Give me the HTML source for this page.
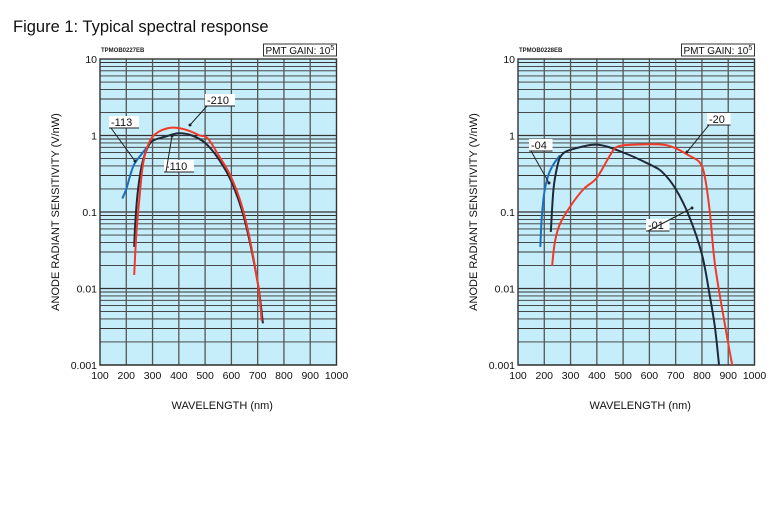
<!DOCTYPE html>
<html><head><meta charset="utf-8"><style>
body{margin:0;background:#fff;width:781px;height:505px;overflow:hidden}
svg{font-family:"Liberation Sans",sans-serif}
</style></head><body>
<svg id="s" width="781" height="505" xmlns="http://www.w3.org/2000/svg">
<text x="13" y="32" font-size="16.5" fill="#111">Figure 1: Typical spectral response</text>
</svg>
<script>
const S=document.getElementById('s');let h='';
function smooth(P){let d=`M${P[0][0].toFixed(1)},${P[0][1].toFixed(1)}`;
 for(let i=0;i<P.length-1;i++){const p0=P[i-1]||P[i],p1=P[i],p2=P[i+1],p3=P[i+2]||p2;
  const c1=[p1[0]+(p2[0]-p0[0])/6,p1[1]+(p2[1]-p0[1])/6],c2=[p2[0]-(p3[0]-p1[0])/6,p2[1]-(p3[1]-p1[1])/6];
  d+=` C${c1[0].toFixed(1)},${c1[1].toFixed(1)} ${c2[0].toFixed(1)},${c2[1].toFixed(1)} ${p2[0].toFixed(1)},${p2[1].toFixed(1)}`;}
 return d;}
function chart(x0,code,curves,labels){
 const w=236.5,y0=59,d=76.5;
 const X=l=>x0+(l-100)/900*w, Y=v=>y0+(1-Math.log10(v))*d;
 h+=`<rect x="${x0}" y="${y0}" width="${w}" height="${4*d}" fill="#c6eefa"/>`;
 for(let e=-3;e<1;e++)for(let m=1;m<10;m++){const y=Y(m*Math.pow(10,e));
  h+=`<line x1="${x0}" x2="${x0+w}" y1="${y}" y2="${y}" stroke="#333" stroke-width="${m==1?1.3:0.9}"/>`;}
 for(let l=200;l<1000;l+=100)h+=`<line x1="${X(l)}" x2="${X(l)}" y1="${y0}" y2="${y0+4*d}" stroke="#555" stroke-width="1.3"/>`;
 h+=`<rect x="${x0}" y="${y0}" width="${w}" height="${4*d}" fill="none" stroke="#333" stroke-width="1.4"/>`;
 ['10','1','0.1','0.01','0.001'].forEach((t,i)=>h+=`<text x="${x0-3}" y="${y0+i*d+4}" font-size="10.5" text-anchor="end" fill="#111">${t}</text>`);
 for(let l=100;l<=1000;l+=100)h+=`<text x="${X(l)}" y="${y0+4*d+14}" font-size="10.5" text-anchor="middle" fill="#111">${l}</text>`;
 h+=`<text x="${x0+w/2+4}" y="409" font-size="11" text-anchor="middle" fill="#111">WAVELENGTH (nm)</text>`;
 h+=`<text transform="translate(${x0-41},${y0+2*d}) rotate(-90)" font-size="11" text-anchor="middle" fill="#111">ANODE RADIANT SENSITIVITY (V/nW)</text>`;
 h+=`<text x="${x0+1}" y="${y0-7}" font-size="6" font-weight="bold" fill="#222">${code}</text>`;
 h+=`<rect x="${x0+w-73}" y="${y0-15}" width="73" height="12" fill="#fff" stroke="#333"/><text x="${x0+w-71}" y="${y0-5}" font-size="10" fill="#111">PMT GAIN: 10<tspan dy="-4" font-size="7">5</tspan></text>`;
 curves.forEach(c=>{h+=`<path fill="none" stroke="${c[0]}" stroke-width="2" stroke-linejoin="round" d="${smooth(c[1].map(p=>[X(p[0]),Y(p[1])]))}"/>`;});
 labels.forEach(L=>{const [t,lx,ly,ax,ay]=L;h+=`<rect x="${lx-2}" y="${ly-10}" width="${t.length*6.5+4}" height="12" fill="#fff"/><text x="${lx}" y="${ly}" font-size="11" fill="#111">${t}</text><line x1="${lx-2}" x2="${lx+t.length*6.5+2}" y1="${ly+2}" y2="${ly+2}" stroke="#222"/><line x1="${lx}" y1="${ly+2}" x2="${ax}" y2="${ay}" stroke="#222"/><circle cx="${ax}" cy="${ay}" r="1.5" fill="#222"/>`;});
}
const B='#1a6fc0',K='#1e2a3a',R='#f03a2a';
chart(100,'TPMOB0227EB',[
 [B,[[185,0.15],[200,0.2],[215,0.3],[230,0.42],[260,0.58],[290,0.78]]],
 [K,[[230,0.035],[235,0.08],[245,0.2],[260,0.42],[280,0.68],[300,0.85],[350,0.97],[400,1.07],[450,1.0],[500,0.8],[550,0.5],[600,0.25],[650,0.08],[700,0.012],[720,0.0035]]],
 [R,[[230,0.015],[238,0.05],[250,0.15],[265,0.45],[290,0.85],[320,1.1],[360,1.25],[400,1.25],[440,1.15],[480,1.0],[510,0.92],[550,0.56],[600,0.28],[650,0.09],[700,0.012],[715,0.0038]]]
],[['-113',111,126,135,161],['-210',207,104,190,125],['-110',166,170,172,136]]);
chart(518,'TPMOB0228EB',[
 [B,[[185,0.035],[190,0.08],[200,0.18],[215,0.3],[235,0.42],[260,0.55]]],
 [K,[[225,0.055],[235,0.2],[250,0.4],[265,0.55],[300,0.65],[400,0.76],[500,0.6],[600,0.42],[650,0.33],[700,0.2],[750,0.09],[800,0.028],[830,0.008],[850,0.003],[865,0.001]]],
 [R,[[230,0.02],[240,0.04],[260,0.07],[300,0.12],[350,0.2],[400,0.28],[450,0.55],[480,0.72],[550,0.76],[650,0.76],[700,0.68],[750,0.55],[790,0.45],[810,0.3],[830,0.1],[850,0.02],[890,0.003],[915,0.001]]]
],[['-04',531,149,549,183],['-20',709,123,687,152],['-01',648,229,692,208]]);
S.innerHTML+=h;
</script>
</body></html>
